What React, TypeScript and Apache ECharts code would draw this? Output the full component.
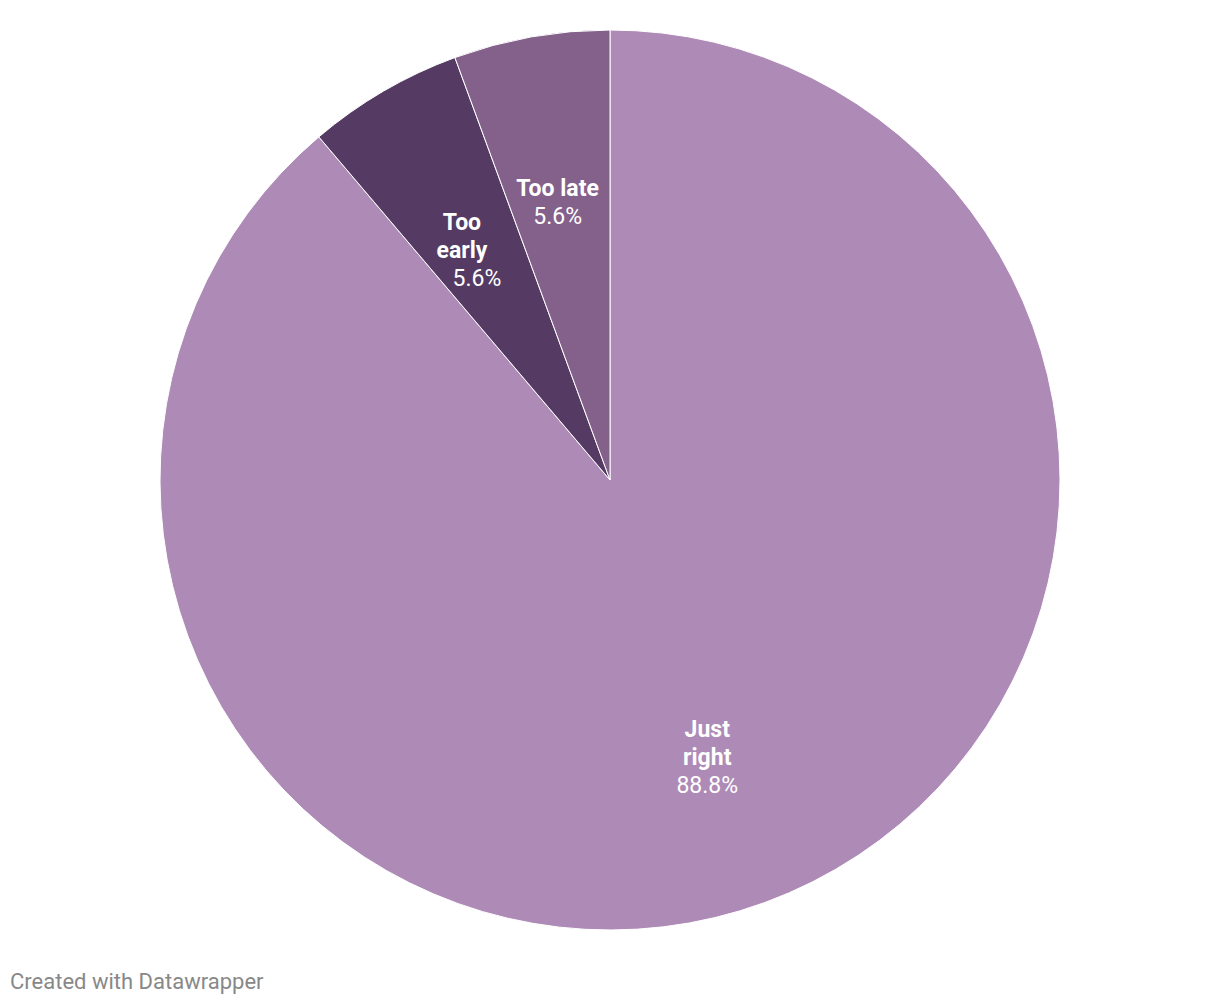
import React, { useEffect, useRef } from "react";
import * as echarts from "echarts";

const categories = ["Just\nright", "Too\nearly", "Too late"];
const values = [88.8, 5.6, 5.6];
const colors = ["#ae8ab7", "#553b63", "#84618b"];
const labelOffsets = [[-2, 7], [-3, 19], [-2, 6]];
const valueStyles = ["v", "v2", "v"];

export default function App() {
  const ref = useRef<HTMLDivElement>(null);
  useEffect(() => {
    const chart = echarts.init(ref.current!, null, { renderer: "svg" });
    const data = categories.map((c, i) => ({ name: c, value: values[i], itemStyle: { color: colors[i] } }));
    chart.setOption({
      animation: false,
      textStyle: { fontFamily: "Roboto" },
      graphic: [
        {
          type: "text",
          left: 10,
          top: 970,
          style: { text: "Created with Datawrapper", fill: "#888888", font: "22px Roboto" },
        },
      ],
      series: [
        {
          type: "pie",
          center: [610, 480],
          radius: [0, 450],
          startAngle: 90,
          clockwise: true,
          silent: true,
          itemStyle: { borderColor: "#ffffff", borderWidth: 1 },
          label: { show: false },
          labelLine: { show: false },
          data,
        },
        {
          type: "pie",
          center: [610, 480],
          radius: [0, 570],
          startAngle: 90,
          clockwise: true,
          silent: true,
          z: 5,
          itemStyle: { color: "rgba(0,0,0,0)", borderWidth: 0 },
          label: {
            show: true,
            position: "inside",
            formatter: (p: any) => `{b|${p.name}}\n{${valueStyles[p.dataIndex]}|${p.value.toFixed(1)}%}`,
            rich: {
              b: { fontFamily: "Roboto", fontWeight: "bold", fontSize: 23, color: "#ffffff", lineHeight: 28, align: "center" },
              v: { fontFamily: "Roboto", fontSize: 23, color: "#ffffff", lineHeight: 28, align: "center" },
              v2: { fontFamily: "Roboto", fontSize: 23, color: "#ffffff", lineHeight: 28, align: "center", padding: [0, 0, 0, 30] },
            },
          },
          labelLine: { show: false },
          data: categories.map((c, i) => ({
            name: c,
            value: values[i],
            itemStyle: { color: "rgba(0,0,0,0)" },
            label: { offset: labelOffsets[i] },
          })),
        },
      ],
    });
    return () => chart.dispose();
  }, []);
  return <div ref={ref} style={{ position: "fixed", left: 0, top: 0, width: 1220, height: 1006, background: "#ffffff" }} />;
}
